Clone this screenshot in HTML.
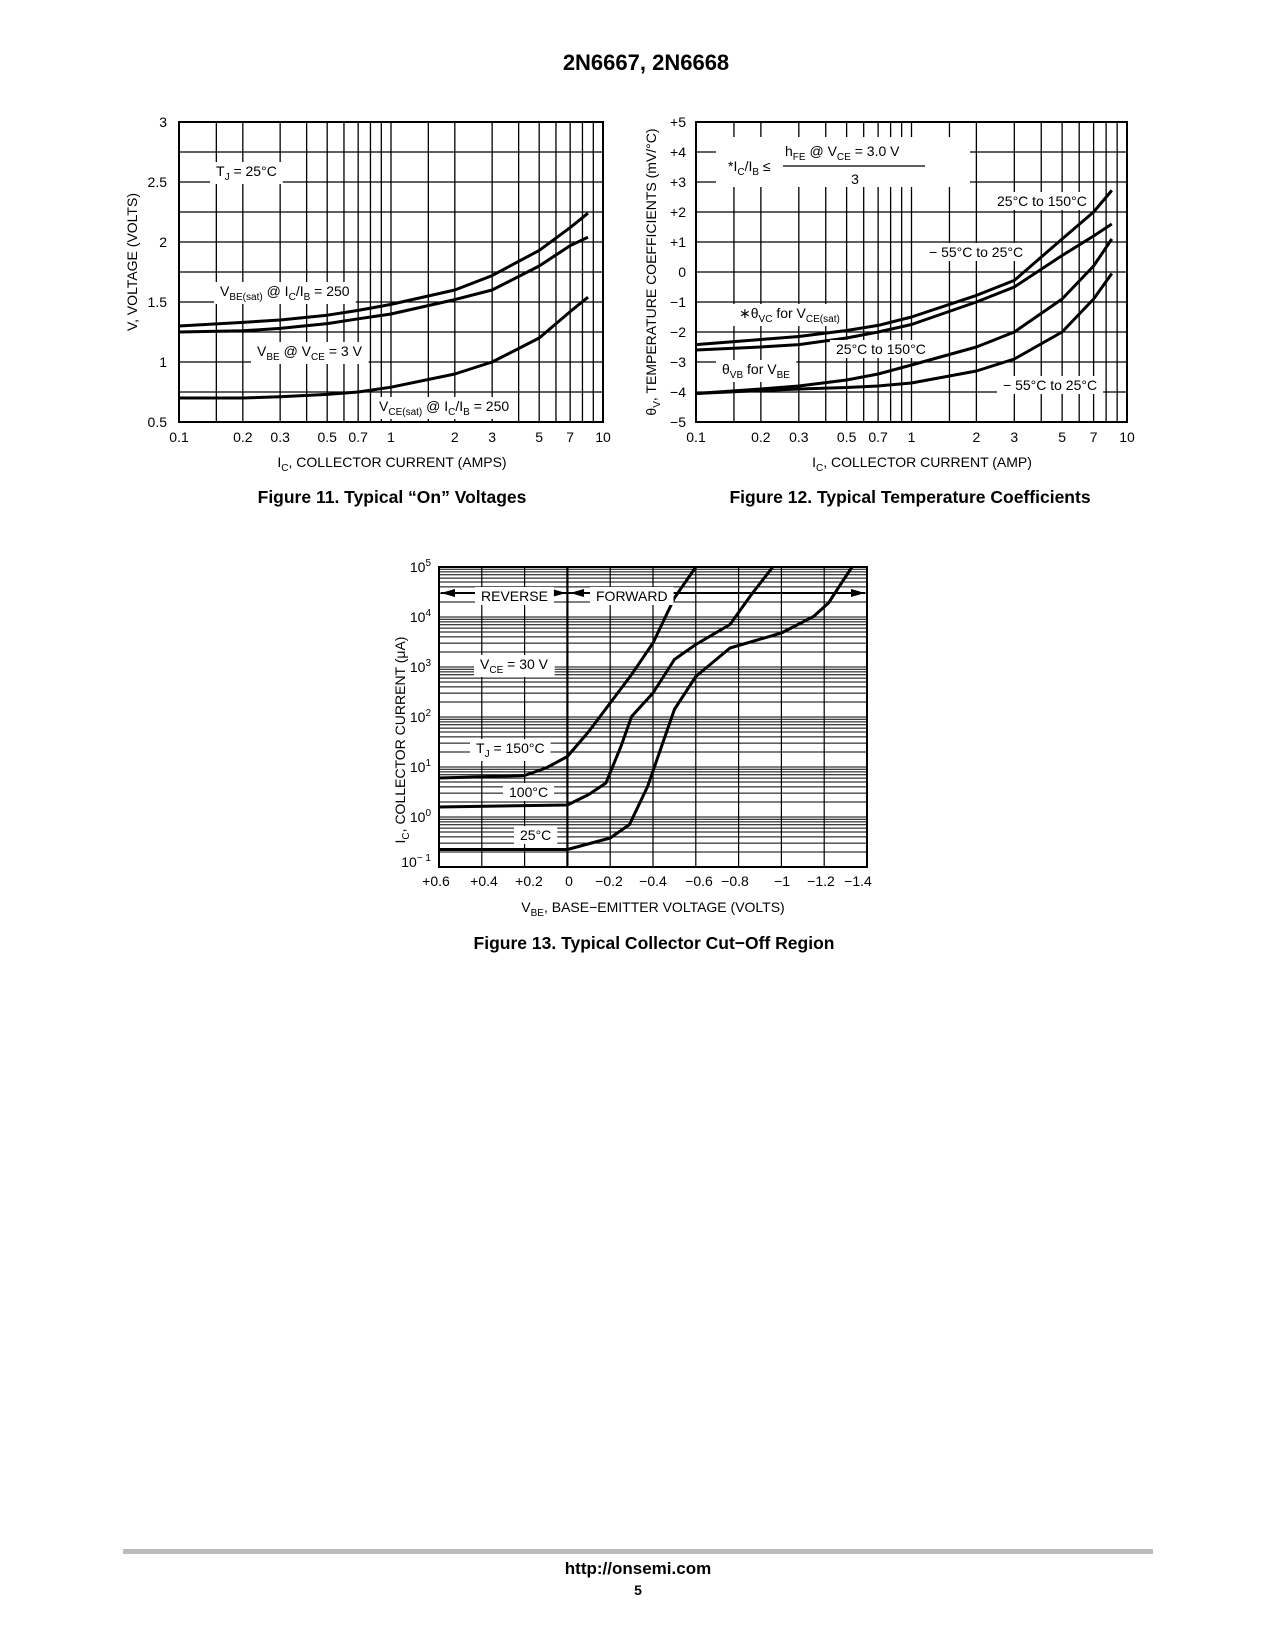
<!DOCTYPE html>
<html><head><meta charset="utf-8">
<style>
body{margin:0;background:#fff;}
svg{display:block;font-family:"Liberation Sans",sans-serif;}
.t{font-size:14px;fill:#000;}
.b{font-weight:bold;}
</style></head>
<body>
<svg id="s" width="1275" height="1650" viewBox="0 0 1275 1650">
<text x="646" y="70" text-anchor="middle" class="b" font-size="22">2N6667, 2N6668</text>
<text x="392" y="503" text-anchor="middle" class="b" font-size="17.5">Figure 11. Typical “On” Voltages</text>
<text x="910" y="503" text-anchor="middle" class="b" font-size="17.5">Figure 12. Typical Temperature Coefficients</text>
<text x="654" y="949" text-anchor="middle" class="b" font-size="17.5">Figure 13. Typical Collector Cut−Off Region</text>
<rect x="123" y="1549" width="1030" height="5" fill="#bbb"/>
<text x="638" y="1574" text-anchor="middle" class="b" font-size="17">http://onsemi.com</text>
<text x="638" y="1595" text-anchor="middle" class="b" font-size="14">5</text>
</svg>
<script>
// ---- Figure 11 data ----
const f11X = [0.1,0.2,0.3,0.5,0.7,1,2,3,5,7,8.5];
const f11VbeSat = [1.30,1.33,1.35,1.39,1.43,1.48,1.60,1.72,1.93,2.12,2.24];
const f11Vbe = [1.25,1.26,1.28,1.32,1.36,1.40,1.52,1.60,1.80,1.97,2.04];
const f11VceSat = [0.70,0.70,0.71,0.73,0.75,0.79,0.90,1.00,1.20,1.42,1.54];
const f11YTicks = ["0.5","1","1.5","2","2.5","3"];
const f11XTicks = ["0.1","0.2","0.3","0.5","0.7","1","2","3","5","7","10"];
// ---- Figure 12 data ----
const f12X = [0.1,0.2,0.3,0.5,0.7,1,2,3,5,7,8.5];
const f12VcHot = [-2.42,-2.25,-2.15,-1.95,-1.78,-1.5,-0.78,-0.28,1.1,2.0,2.72];
const f12VcCold = [-2.6,-2.5,-2.42,-2.2,-2.0,-1.75,-1.0,-0.5,0.55,1.2,1.6];
const f12VbHot = [-4.05,-3.9,-3.8,-3.6,-3.4,-3.1,-2.5,-2.0,-0.9,0.2,1.1];
const f12VbCold = [-4.05,-3.95,-3.9,-3.85,-3.8,-3.7,-3.3,-2.9,-2.0,-0.9,-0.05];
const f12YTicks = ["−5","−4","−3","−2","−1","0","+1","+2","+3","+4","+5"];
// ---- Figure 13 data ----
const f13X150 = [0.6,0.2,0.1,0,-0.1,-0.2,-0.3,-0.4,-0.5,-0.6];
const f13Y150 = [0.78,0.83,0.98,1.21,1.71,2.28,2.85,3.48,4.38,5.0];
const f13X100 = [0.6,0,-0.1,-0.18,-0.25,-0.3,-0.4,-0.5,-0.6,-0.76,-0.86,-0.96];
const f13Y100 = [0.2,0.24,0.45,0.68,1.41,2.01,2.48,3.15,3.45,3.85,4.45,5.0];
const f13X25 = [0.6,0,-0.2,-0.29,-0.375,-0.5,-0.6,-0.76,-1.0,-1.15,-1.22,-1.27,-1.33];
const f13Y25 = [-0.65,-0.65,-0.42,-0.15,0.61,2.15,2.81,3.38,3.68,4.01,4.28,4.61,5.0];
const f13XTicks = ["+0.6","+0.4","+0.2","0","−0.2","−0.4","−0.6","−0.8","−1","−1.2","−1.4"];

const NS="http://www.w3.org/2000/svg";
const svg=document.getElementById('s');
function mk(tag,attrs,parent){const e=document.createElementNS(NS,tag);for(const k in attrs)e.setAttribute(k,attrs[k]);(parent||svg).appendChild(e);return e;}
function line(x1,y1,x2,y2,w,g){return mk('line',{x1,y1,x2,y2,stroke:'#000','stroke-width':w},g);}
function txt(x,y,s,anchor,g,size){const t=mk('text',{x,y,'text-anchor':anchor||'middle','font-size':size||14},g);t.innerHTML=s;return t;}
function boxed(x,y,s,g,size,anchor){const t=txt(x,y,s,anchor||'start',g,size);const bb=t.getBBox();const r=mk('rect',{x:bb.x-6,y:bb.y-1,width:bb.width+12,height:bb.height+2,fill:'#fff'},g);g.insertBefore(r,t);return t;}
function path(xs,ys,fx,fy,g){let d='';for(let i=0;i<xs.length;i++)d+=(i?'L':'M')+fx(xs[i]).toFixed(1)+','+fy(ys[i]).toFixed(1);return mk('path',{d,fill:'none',stroke:'#000','stroke-width':3,'stroke-linejoin':'round'},g);}
const logGrid=[0.1,0.15,0.2,0.3,0.4,0.5,0.6,0.7,0.8,0.9,1,1.5,2,3,4,5,6,7,8,9,10];

// ================= Figure 11 =================
(function(){
const g=mk('g',{});


const L=179,R=603,T=122,B=422;
const fx=v=>L+(Math.log10(v)+1)/2*(R-L);
const fy=v=>B-(v-0.5)/2.5*(B-T);
for(const v of logGrid)line(fx(v),T,fx(v),B,1.3,g);
for(let v=0.5;v<=3.001;v+=0.25)line(L,fy(v),R,fy(v),1.3,g);
mk('rect',{x:L,y:T,width:R-L,height:B-T,fill:'none',stroke:'#000','stroke-width':2},g);
f11YTicks.forEach(s=>txt(L-12,fy(parseFloat(s))+5,s,'end',g));
f11XTicks.forEach(s=>txt(fx(parseFloat(s)),442,s,'middle',g));
const s1=path(f11X,f11VbeSat,fx,fy,g);
const s2=path(f11X,f11Vbe,fx,fy,g);
const s3=path(f11X,f11VceSat,fx,fy,g);
boxed(216,176,'T<tspan font-size="10" dy="4">J</tspan><tspan dy="-4"> = 25°C</tspan>',g);
boxed(220,296,'V<tspan font-size="10" dy="4">BE(sat)</tspan><tspan dy="-4"> @ I</tspan><tspan font-size="10" dy="4">C</tspan><tspan dy="-4">/I</tspan><tspan font-size="10" dy="4">B</tspan><tspan dy="-4"> = 250</tspan>',g);
boxed(257,356,'V<tspan font-size="10" dy="4">BE</tspan><tspan dy="-4"> @ V</tspan><tspan font-size="10" dy="4">CE</tspan><tspan dy="-4"> = 3 V</tspan>',g);
boxed(379,411,'V<tspan font-size="10" dy="4">CE(sat)</tspan><tspan dy="-4"> @ I</tspan><tspan font-size="10" dy="4">C</tspan><tspan dy="-4">/I</tspan><tspan font-size="10" dy="4">B</tspan><tspan dy="-4"> = 250</tspan>',g);
txt(392,467,'I<tspan font-size="10" dy="4">C</tspan><tspan dy="-4">, COLLECTOR CURRENT (AMPS)</tspan>','middle',g);
const yl=txt(0,0,'V, VOLTAGE (VOLTS)','middle',g);yl.setAttribute('transform','translate(137,262) rotate(-90)');
})();

// ================= Figure 12 =================
(function(){
const g=mk('g',{});


const L=696,R=1127,T=122,B=422;
const fx=v=>L+(Math.log10(v)+1)/2*(R-L);
const fy=v=>B-(v+5)/10*(B-T);
for(const v of logGrid)line(fx(v),T,fx(v),B,1.3,g);
for(let v=-5;v<=5;v++)line(L,fy(v),R,fy(v),1.3,g);
mk('rect',{x:L,y:T,width:R-L,height:B-T,fill:'none',stroke:'#000','stroke-width':2},g);
f12YTicks.forEach(s=>txt(L-10,fy(parseFloat(s.replace('−','-')))+5,s,'end',g));
f11XTicks.forEach(s=>txt(fx(parseFloat(s)),442,s,'middle',g));
const a=path(f12X,f12VcHot,fx,fy,g);
const b=path(f12X,f12VcCold,fx,fy,g);
const c=path(f12X,f12VbHot,fx,fy,g);
const d=path(f12X,f12VbCold,fx,fy,g);
const r=mk('rect',{x:716,y:137,width:254,height:50,fill:'#fff'},g);
txt(728,171,'*I<tspan font-size="10" dy="4">C</tspan><tspan dy="-4">/I</tspan><tspan font-size="10" dy="4">B</tspan><tspan dy="-4"> ≤</tspan>','start',g);
txt(785,156,'h<tspan font-size="10" dy="4">FE</tspan><tspan dy="-4"> @ V</tspan><tspan font-size="10" dy="4">CE</tspan><tspan dy="-4">  =   3.0 V</tspan>','start',g);
line(783,166,925,166,1.3,g);
txt(855,184,'3','middle',g);
boxed(997,206,'25°C to 150°C',g);
boxed(929,257,'− 55°C to 25°C',g);
boxed(739,318,'∗θ<tspan font-size="10" dy="4">VC</tspan><tspan dy="-4"> for V</tspan><tspan font-size="10" dy="4">CE(sat)</tspan>',g);
boxed(836,354,'25°C to 150°C',g);
boxed(722,374,'θ<tspan font-size="10" dy="4">VB</tspan><tspan dy="-4"> for V</tspan><tspan font-size="10" dy="4">BE</tspan>',g);
boxed(1003,390,'− 55°C to 25°C',g);
txt(922,467,'I<tspan font-size="10" dy="4">C</tspan><tspan dy="-4">, COLLECTOR CURRENT (AMP)</tspan>','middle',g);
const yl=txt(0,0,'θ<tspan font-size="10" dy="4">V</tspan><tspan dy="-4">, TEMPERATURE COEFFICIENTS (mV/°C)</tspan>','middle',g);yl.setAttribute('transform','translate(656,272) rotate(-90)');
})();

// ================= Figure 13 =================
(function(){
const g=mk('g',{});


const L=439,R=867,T=567,B=867;
const fx=v=>L+(0.6-v)/2.0*(R-L);
const fy=v=>B-(v+1)/6*(B-T);
for(let d=-1;d<5;d++)for(let k=1;k<10;k++)line(L,fy(d+Math.log10(k)),R,fy(d+Math.log10(k)),1,g);
for(let i=0;i<=10;i++){const v=0.6-0.2*i;line(fx(v),T,fx(v),B,Math.abs(v)<1e-9?2.2:1.2,g);}
mk('rect',{x:L,y:T,width:R-L,height:B-T,fill:'none',stroke:'#000','stroke-width':2},g);
const xpos=[436,484,529,569,609,653,699,735,782,821,858];
f13XTicks.forEach((s,i)=>txt(xpos[i],886,s,'middle',g));
for(let d=-1;d<=5;d++)txt(L-8,fy(d)+(d==-1?0:5),'10<tspan font-size="10" dy="-6">'+(d==-1?'− 1':d)+'</tspan>','end',g);
const ay=593;
line(L+2,ay,R-2,ay,2,g);
mk('polygon',{points:`${L+2},${ay} ${L+16},${ay-4} ${L+16},${ay+4}`},g);
mk('polygon',{points:`${R-2},${ay} ${R-16},${ay-4} ${R-16},${ay+4}`},g);
mk('polygon',{points:`${566},${ay} ${552},${ay-4} ${552},${ay+4}`},g);
mk('polygon',{points:`${570},${ay} ${584},${ay-4} ${584},${ay+4}`},g);
const p1=path(f13X150,f13Y150,fx,fy,g);
const p2=path(f13X100,f13Y100,fx,fy,g);
const p3=path(f13X25,f13Y25,fx,fy,g);
boxed(481,601,'REVERSE',g);
boxed(596,601,'FORWARD',g);
boxed(480,669,'V<tspan font-size="10" dy="4">CE</tspan><tspan dy="-4"> = 30 V</tspan>',g);
boxed(476,753,'T<tspan font-size="10" dy="4">J</tspan><tspan dy="-4"> = 150°C</tspan>',g);
boxed(509,797,'100°C',g);
boxed(520,840,'25°C',g);
txt(653,912,'V<tspan font-size="10" dy="4">BE</tspan><tspan dy="-4">, BASE−EMITTER VOLTAGE (VOLTS)</tspan>','middle',g);
const yl=txt(0,0,'I<tspan font-size="10" dy="4">C</tspan><tspan dy="-4">, COLLECTOR CURRENT (μA)</tspan>','middle',g);yl.setAttribute('transform','translate(405,740) rotate(-90)');
})();
</script>
</body></html>
